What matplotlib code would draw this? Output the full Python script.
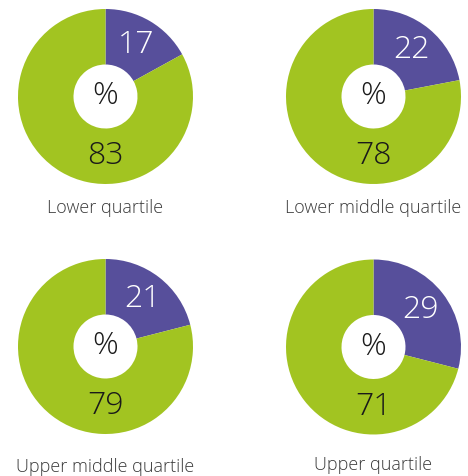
import numpy as np
import matplotlib
matplotlib.use('Agg')
import matplotlib.pyplot as plt

# data
groups = ['Lower quartile', 'Lower middle quartile',
          'Upper middle quartile', 'Upper quartile']
women = [17, 22, 21, 29]
men = [83, 78, 79, 71]

purple = '#574f9b'
green = '#a2c421'

W, H = 468, 477
fig = plt.figure(figsize=(W / 100, H / 100), dpi=100)
ax = fig.add_axes([0, 0, 1, 1])

# donut centres in pixels (from top-left)
centres = [(105.5, 97.5), (373.5, 97.5), (105.5, 347.5), (373.5, 348)]
label_y = [208, 208, 467, 465]
r_out, r_in, r_txt = 87.5, 32, 60

num_font = dict(family='Open Sans', fontweight='light', fontsize=23)

for i, name in enumerate(groups):
    cx, cy = centres[i]
    cy = H - cy
    ax.pie([women[i], men[i]], colors=[purple, green], startangle=90,
           counterclock=False, center=(cx, cy), radius=r_out,
           wedgeprops=dict(width=r_out - r_in, linewidth=0))
    # purple number at the middle of its wedge
    a = np.deg2rad(90 - women[i] / 100 * 360 / 2)
    ax.text(cx + r_txt * np.cos(a), cy + r_txt * np.sin(a) + 1, str(women[i]),
            ha='center', va='center', color='white', **num_font)
    # green number at the bottom
    ax.text(cx, cy - r_txt + 1, str(men[i]), ha='center', va='center',
            color='#1a1a1a', **num_font)
    ax.text(cx, cy + 1, '%', ha='center', va='center', color='#1a1a1a',
            **num_font)
    ax.text(cx, H - label_y[i], name, ha='center', va='center',
            color='#3a3a3a', fontsize=13, family='Open Sans',
            fontweight='light')

ax.set_xlim(0, W)
ax.set_ylim(0, H)
ax.set_aspect('auto')
ax.axis('off')

fig.savefig('out.png', dpi=100, facecolor='white')
